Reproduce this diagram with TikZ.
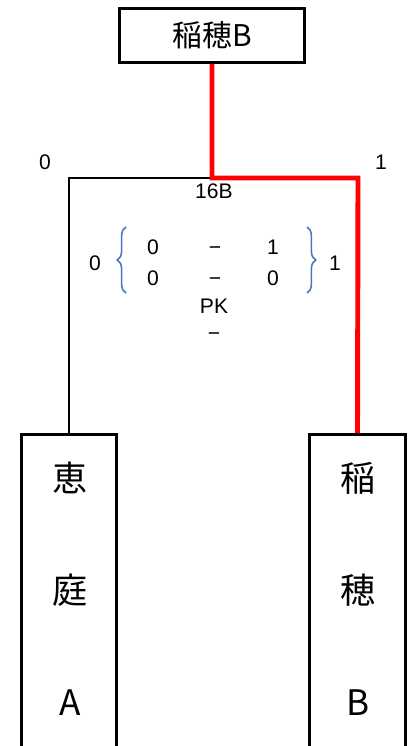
\documentclass[tikz,border=0pt]{standalone}
\usepackage{fontspec}
\setmainfont{Noto Sans CJK JP}
\newfontfamily\latinsans{Liberation Sans}
\usetikzlibrary{decorations.pathreplacing}
\definecolor{braceblue}{RGB}{70,120,190}
\tikzset{
  teambox/.style={draw=black, line width=1.7pt, minimum width=1.92cm, minimum height=7cm, anchor=north, inner sep=0pt},
  teamchar/.style={font=\fontsize{20}{20}\selectfont, inner sep=0pt},
  score/.style={font=\latinsans\fontsize{12}{12}\selectfont, inner sep=0pt, text height=8.6pt, text depth=0pt},
  winline/.style={red, line width=2.8pt},
  loseline/.style={black, line width=1.7pt},
  scorebrace/.style={braceblue, line width=0.9pt, decorate, decoration={brace, amplitude=5pt}}
}
\begin{document}
\begin{tikzpicture}[x=0.02cm, y=-0.02cm]
\useasboundingbox (0,0) rectangle (411,746);
\node [draw=black, line width=1.7pt, minimum width=3.72cm, minimum height=1.08cm, inner sep=0pt, font=\fontsize{17}{17}\selectfont] (champ) at (212,35.5) {稲穂B};

\node [teambox] (teamA) at (69,433) {};
\node [teambox] (teamB) at (357.5,433) {};
\node [teamchar] (a1) at (70,478) {恵};
\node [teamchar] (a2) at (70,590) {庭};
\node [teamchar] (a3) at (70,703) {A};
\node [teamchar] (b1) at (358,478) {稲};
\node [teamchar] (b2) at (358,590) {穂};
\node [teamchar] (b3) at (358,703) {B};

\coordinate (hub) at (212,178);
\coordinate (cornerB) at (358,178);
\draw [loseline] (teamA.north) |- (hub);
\draw [winline] (champ.south) |- (cornerB) -- (teamB.north);

\node [score] (totA) at (45,162) {0};
\node [score] (totB) at (381,162) {1};
\node [score] (round) at (214,191) {16B};

% score box
\node [score] (aggA) at (95,263) {0};
\node [score] (aggB) at (335,263) {1};
\node [score] (h1A) at (153,247) {0};
\node [score] (h1d) at (215,247) {−};
\node [score] (h1B) at (273,247) {1};
\node [score] (h2A) at (153,278) {0};
\node [score] (h2d) at (215,278) {−};
\node [score] (h2B) at (273,278) {0};
\node [score] (pk) at (214,306) {PK};
\node [score] (pkd) at (214,333) {−};
\draw [scorebrace] (126,293) -- (126,227);
\draw [scorebrace] (307,227) -- (307,293);
\end{tikzpicture}
\end{document}
